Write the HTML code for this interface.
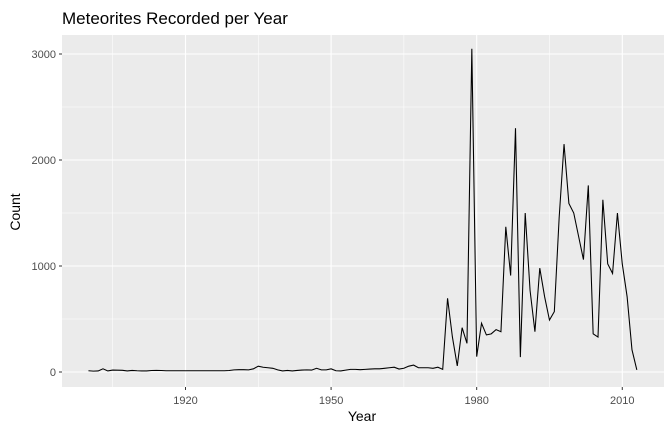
<!DOCTYPE html>
<html><head><meta charset="utf-8"><style>
body{margin:0;background:#fff;font-family:"Liberation Sans",Arial,sans-serif;}
svg text{font-family:"Liberation Sans",Arial,sans-serif;}
</style></head><body>
<svg id="chart" width="672" height="432" xmlns="http://www.w3.org/2000/svg">
<text x="62" y="24" font-size="17" fill="#000">Meteorites Recorded per Year</text>
<rect x="62" y="35" width="602" height="352" fill="#ebebeb"/>
<g id="grid"></g>
<path id="line" fill="none" stroke="#000" stroke-width="1.07"/>
<g id="axes"></g>
<text x="362" y="421" font-size="14" text-anchor="middle">Year</text>
<text transform="translate(20,212) rotate(-90)" font-size="14" text-anchor="middle">Count</text>
</svg>
<script>
const startYear = 1900;
const counts = [12,8,10,30,10,18,17,16,10,15,12,10,10,14,15,14,12,12,12,12,
12,12,12,12,12,12,12,12,12,14,20,22,22,20,30,55,45,40,35,20,
10,15,10,15,18,20,18,35,20,20,30,12,10,18,25,25,22,25,28,30,
30,35,40,45,28,35,55,65,40,40,
40,35,45,25,695,330,57,418,270,3050,145,
460,350,360,400,380,1370,910,2300,140,1500,
770,380,980,710,490,570,1460,2150,1590,1500,
1280,1060,1760,360,330,1625,1020,930,1500,1020,
710,210,20];
const xTicks = [1920,1950,1980,2010];
const xMinor = [1905,1935,1965,1995];
const yTicks = [0,1000,2000,3000];
const yMinor = [500,1500,2500];
const X = yr => 185.5 + (yr - 1920) * 4.853;
const Y = v => 372 - v * 0.106;
const ns = "http://www.w3.org/2000/svg";
const grid = document.getElementById('grid');
const axes = document.getElementById('axes');
function ln(g,x1,y1,x2,y2,c,w){const l=document.createElementNS(ns,'line');
l.setAttribute('x1',x1);l.setAttribute('y1',y1);l.setAttribute('x2',x2);l.setAttribute('y2',y2);
l.setAttribute('stroke',c);l.setAttribute('stroke-width',w);g.appendChild(l);return l;}
function tx(g,x,y,s,anchor){const t=document.createElementNS(ns,'text');
t.setAttribute('x',x);t.setAttribute('y',y);t.setAttribute('font-size','11');t.setAttribute('fill','#4d4d4d');
t.setAttribute('text-anchor',anchor);t.textContent=s;g.appendChild(t);return t;}
yMinor.forEach(v=>{const l=ln(grid,62,Y(v),664,Y(v),'#fff',0.55);

});
xMinor.forEach(v=>{const l=ln(grid,X(v),35,X(v),387,'#fff',0.55);

});
yTicks.forEach(v=>{const l=ln(grid,62,Y(v),664,Y(v),'#fff',1.1);


const k=ln(axes,59,Y(v),62,Y(v),'#333',1);


const t=tx(axes,56,Y(v)+4,String(v),'end');

});
xTicks.forEach(v=>{const l=ln(grid,X(v),35,X(v),387,'#fff',1.1);


const k=ln(axes,X(v),387,X(v),390,'#333',1);


const t=tx(axes,X(v),404,String(v),'middle');

});
document.getElementById('line').setAttribute('d',counts.map((c,i)=>(i?'L':'M')+X(startYear+i).toFixed(2)+','+Y(c).toFixed(2)).join(''));
</script>
</body></html>
